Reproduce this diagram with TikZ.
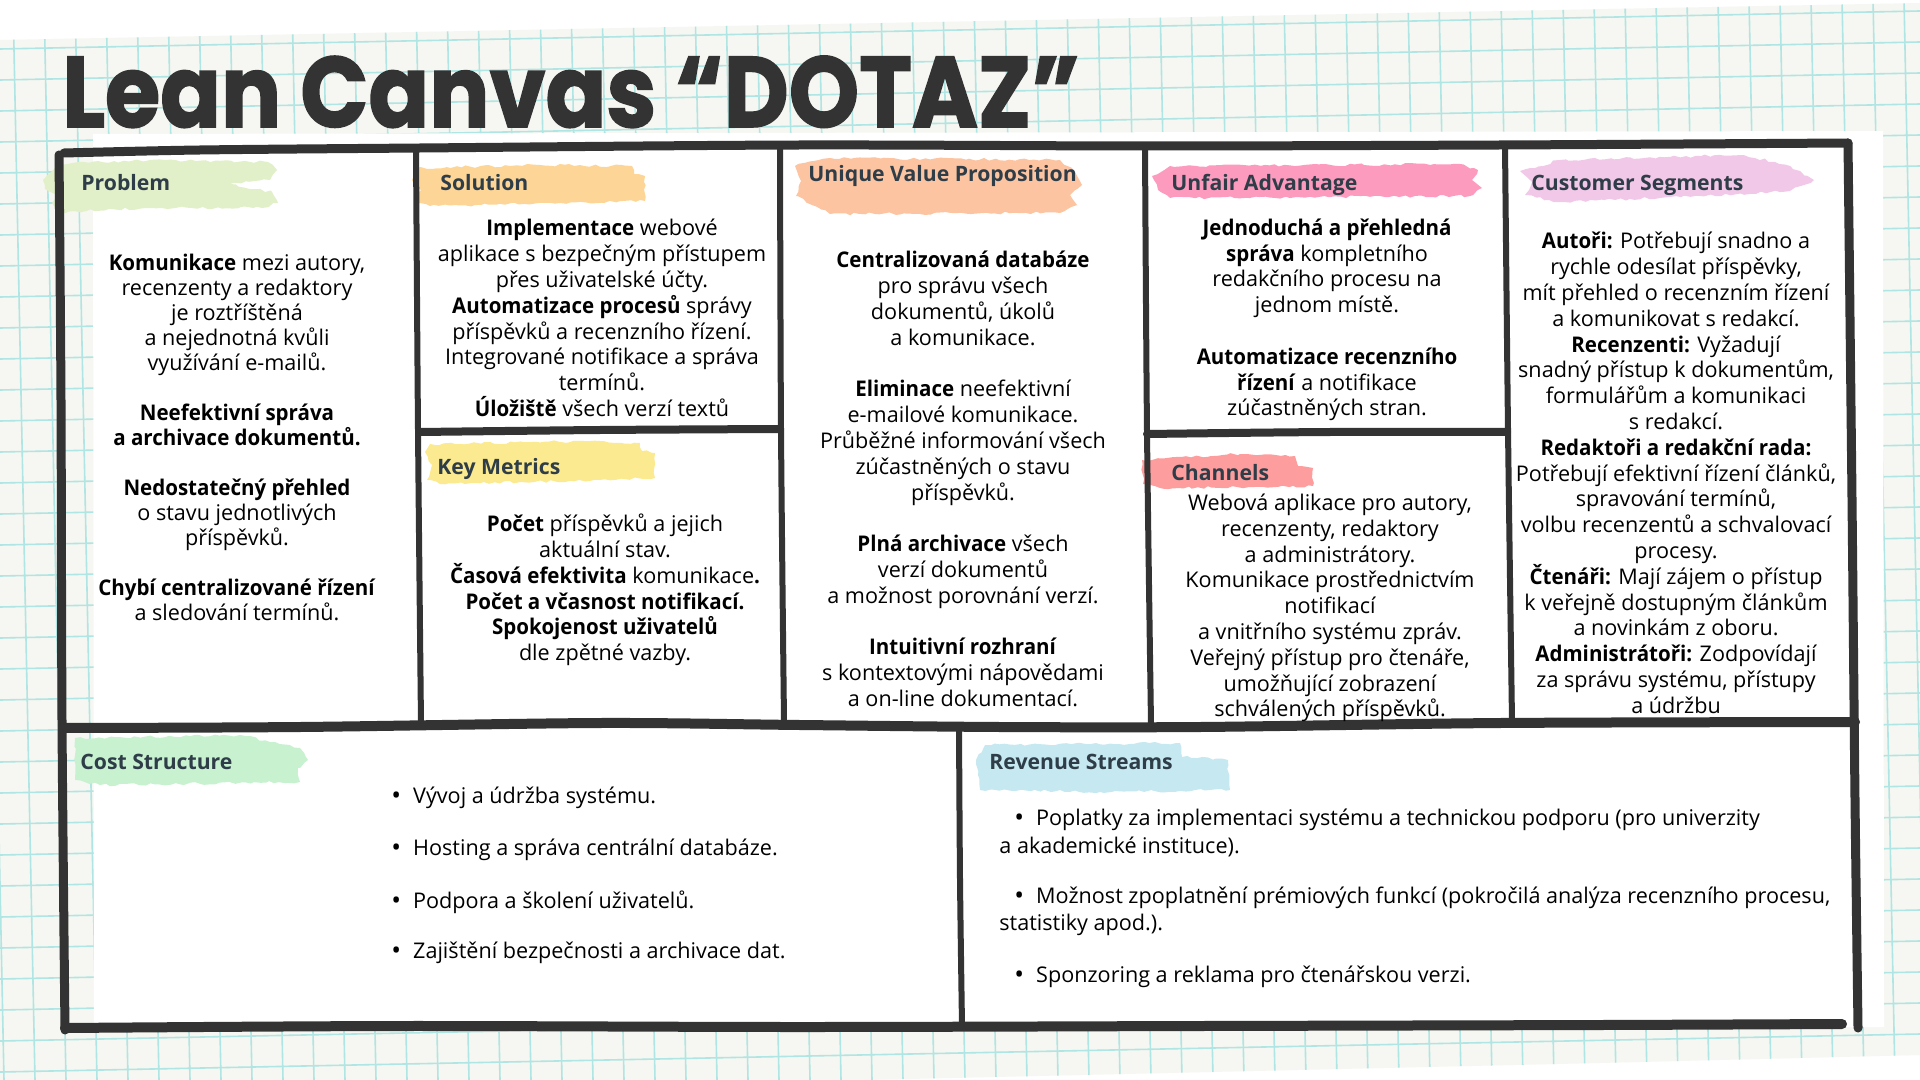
\documentclass[tikz,border=0pt]{standalone}
\usepackage{fontspec}
\setmainfont{Open Sans}[BoldFeatures={FakeStretch=0.95}]
\newfontfamily\headfont{Open Sans}
\newfontfamily\titlefont[BoldFeatures={FakeBold=1.6}]{Poppins}
\usetikzlibrary{decorations.pathmorphing}

\definecolor{ink}{HTML}{333333}
\definecolor{paper}{HTML}{F6F6F2}
\definecolor{gridc}{HTML}{AFE5E2}
\definecolor{headc}{HTML}{2E3D47}
\definecolor{hlProblem}{HTML}{E2F0C9}
\definecolor{hlSolution}{HTML}{FDD697}
\definecolor{hlMetrics}{HTML}{FBEA8F}
\definecolor{hlValue}{HTML}{FCC4A1}
\definecolor{hlAdvantage}{HTML}{FD9BBF}
\definecolor{hlChannels}{HTML}{FD9D9D}
\definecolor{hlSegments}{HTML}{F1C8E8}
\definecolor{hlCost}{HTML}{C8F1D0}
\definecolor{hlRevenue}{HTML}{C5E8F1}

\newcommand{\bigdot}{\raisebox{-0.5pt}{\fontsize{13}{13}\selectfont •}}

\tikzset{
  outline/.style={draw=ink, line width=4.5pt, line cap=round, line join=round},
  divider/.style={draw=ink, line width=3pt, line cap=round},
  brush/.style={decorate, decoration={random steps, segment length=2.5pt, amplitude=0.7pt}},
  head/.style={anchor=base west, inner sep=0pt, font=\headfont\fontsize{10.6}{12}\selectfont\bfseries, text=headc},
  body/.style={align=center, inner sep=0pt, font=\fontsize{10.8}{12.9}\selectfont, text=black},
  item/.style={anchor=west, inner sep=0pt, font=\fontsize{10.8}{12.9}\selectfont, text=black},
}

\begin{document}
\begin{tikzpicture}[x=0.5pt, y=-0.5pt]
\pgfmathsetseed{11}
\useasboundingbox (0,0) rectangle (1920,1080);

% paper and squared grid
\fill[white] (0,0) rectangle (1920,1080);
\fill[paper] (0,40) -- (1920,3) -- (1920,1055) -- (1600,1063) -- (0,1100) -- cycle;
\begin{scope}
  \clip (0,40) -- (1920,3) -- (1920,1055) -- (1600,1063) -- (0,1100) -- cycle;
  \foreach \k in {-2,...,37} {
    \draw[gridc, line width=0.8pt] (0,{18+31*\k}) -- (1920,{18+31*\k-38});
  }
  \foreach \k in {-2,...,63} {
    \draw[gridc, line width=0.8pt] ({13+31*\k},0) -- ({13+31*\k+22},1080);
  }
\end{scope}

% white sheet behind the canvas
\fill[white] (93,134) -- (1883,131) -- (1884,1027) -- (94,1029) -- cycle;

% heading
\node[anchor=base west, inner sep=0pt, text=ink,
      font=\titlefont\bfseries\fontsize{50}{50}\selectfont] (title) at (62,127)
      {\scalebox{0.895}[1]{Lean Canvas “DOTAZ”}};

% brush strokes behind the section headings
\fill[hlProblem, brush] (43,180) -- (58,164) -- (150,160) -- (268,162) -- (277,170) -- (270,180) -- (230,184) -- (272,192) -- (278,203) -- (262,208) -- (150,208) -- (60,212) -- (52,203) -- (60,195) -- (45,189) -- cycle;
\fill[hlSolution, brush] (416,168) -- (540,165) -- (632,166) -- (634,174) -- (645,176) -- (645,201) -- (560,203) -- (430,206) -- (416,203) -- (421,190) -- (412,180) -- cycle;
\fill[hlMetrics, brush] (430,444) -- (600,441) -- (640,443) -- (642,451) -- (655,453) -- (655,478) -- (600,480) -- (440,484) -- (427,480) -- (432,465) -- (425,452) -- cycle;
\fill[hlValue, brush] (795,166) -- (830,158) -- (1060,160) -- (1075,172) -- (1082,185) -- (1070,195) -- (1077,205) -- (1060,213) -- (830,214) -- (812,205) -- (796,196) -- (801,181) -- cycle;
\fill[hlAdvantage, brush] (1152,176) -- (1170,166) -- (1460,164) -- (1478,170) -- (1472,180) -- (1482,188) -- (1470,196) -- (1170,198) -- (1158,190) -- cycle;
\fill[hlChannels, brush] (1142,460) -- (1240,454) -- (1295,456) -- (1298,466) -- (1313,468) -- (1313,486) -- (1160,488) -- (1143,484) -- cycle;
\fill[hlSegments, brush] (1520,171) -- (1560,160) -- (1740,155) -- (1775,162) -- (1800,171) -- (1814,180) -- (1790,191) -- (1700,196) -- (1560,202) -- (1525,195) -- (1532,182) -- cycle;
\fill[hlCost, brush] (75,738) -- (240,735) -- (270,742) -- (300,748) -- (308,760) -- (298,768) -- (300,782) -- (100,785) -- (75,780) -- cycle;
\fill[hlRevenue, brush] (985,745) -- (1180,743) -- (1182,757) -- (1228,760) -- (1230,790) -- (1100,792) -- (980,790) -- (976,760) -- cycle;

% hand-drawn frame
\draw[outline] plot[smooth, tension=0.5] coordinates {(64,153) (200,150) (420,148) (800,145) (1150,146) (1500,145) (1848,143)};
\draw[outline] plot[smooth, tension=0.5] coordinates {(59,155) (61,400) (62,720) (65,1030)};
\draw[outline] plot[smooth, tension=0.5] coordinates {(1848,143) (1852,500) (1855,800) (1858,1028)};
\draw[outline, line width=5pt] plot[smooth, tension=0.5] coordinates {(63,728) (300,727) (600,723) (800,725) (1000,727) (1200,727) (1500,723) (1855,722)};
\draw[outline, line width=5pt] plot[smooth, tension=0.5] coordinates {(65,1028) (400,1026) (800,1027) (1200,1026) (1600,1025) (1842,1024)};
\draw[divider] plot[smooth, tension=0.5] coordinates {(416,150) (418,430) (421,724)};
\draw[divider] plot[smooth, tension=0.5] coordinates {(780,148) (781,430) (784,722)};
\draw[divider] plot[smooth, tension=0.5] coordinates {(1145,147) (1147,432) (1151,724)};
\draw[divider] plot[smooth, tension=0.5] coordinates {(1505,146) (1508,430) (1512,722)};
\draw[divider] plot[smooth, tension=0.5] coordinates {(959,726) (960,880) (962,1026)};
\draw[outline, line width=4pt] plot[smooth, tension=0.5] coordinates {(420,432) (600,430) (780,429)};
\draw[outline, line width=4pt] plot[smooth, tension=0.5] coordinates {(1147,434) (1330,432) (1507,432)};

% section headings
\node[head] (hProblem) at (81,191) {Problem};
\node[head] (hSolution) at (440,191) {Solution};
\node[head] (hMetrics) at (437,474) {Key Metrics};
\node[head] (hValue) at (808,182) {Unique Value Proposition};
\node[head] (hAdvantage) at (1171,191) {Unfair Advantage};
\node[head] (hChannels) at (1171,480) {Channels};
\node[head] (hSegments) at (1531,191) {Customer Segments};
\node[head] (hCost) at (80,769) {Cost Structure};
\node[head] (hRevenue) at (989,769) {Revenue Streams};

% section contents
\node[body, font=\fontsize{10.8}{12.5}\selectfont] (tProblem) at (237,437) {%
\textbf{Komunikace} mezi autory,\\
recenzenty a redaktory\\
je roztříštěná\\
a nejednotná kvůli\\
využívání e-mailů.\\[12.5pt]
\textbf{Neefektivní správa}\\
\textbf{a archivace dokumentů.}\\[12.5pt]
\textbf{Nedostatečný přehled}\\
o stavu jednotlivých\\
příspěvků.\\[12.5pt]
\textbf{Chybí centralizované řízení}\\
a sledování termínů.};

\node[body] (tSolution) at (602,318) {%
\textbf{Implementace} webové\\
aplikace s bezpečným přístupem\\
přes uživatelské účty.\\
\textbf{Automatizace procesů} správy\\
příspěvků a recenzního řízení.\\
Integrované notifikace a správa\\
termínů.\\
\textbf{Úložiště} všech verzí textů};

\node[body] (tMetrics) at (605,590) {%
\textbf{Počet} příspěvků a jejich\\
aktuální stav.\\
\textbf{Časová efektivita} komunikace\textbf{.}\\
\textbf{Počet a včasnost notifikací.}\\
\textbf{Spokojenost uživatelů}\\
dle zpětné vazby.};

\node[body] (tValue) at (963,479) {%
\textbf{Centralizovaná databáze}\\
pro správu všech\\
dokumentů, úkolů\\
a komunikace.\\[12.9pt]
\textbf{Eliminace} neefektivní\\
e-mailové komunikace.\\
Průběžné informování všech\\
zúčastněných o stavu\\
příspěvků.\\[12.9pt]
\textbf{Plná archivace} všech\\
verzí dokumentů\\
a možnost porovnání verzí.\\[12.9pt]
\textbf{Intuitivní rozhraní}\\
s kontextovými nápovědami\\
a on-line dokumentací.};

\node[body] (tAdvantage) at (1327,320) {%
\textbf{Jednoduchá a přehledná}\\
\textbf{správa} kompletního\\
redakčního procesu na\\
jednom místě.\\[12.9pt]
\textbf{Automatizace recenzního}\\
\textbf{řízení} a notifikace\\
zúčastněných stran.};

\node[body] (tChannels) at (1330,608) {%
Webová aplikace pro autory,\\
recenzenty, redaktory\\
a administrátory.\\
Komunikace prostřednictvím\\
notifikací\\
a vnitřního systému zpráv.\\
Veřejný přístup pro čtenáře,\\
umožňující zobrazení\\
schválených příspěvků.};

\node[body] (tSegments) at (1676,473) {%
\textbf{Autoři:} Potřebují snadno a\\
rychle odesílat příspěvky,\\
mít přehled o recenzním řízení\\
a komunikovat s redakcí.\\
\textbf{Recenzenti:} Vyžadují\\
snadný přístup k dokumentům,\\
formulářům a komunikaci\\
s redakcí.\\
\textbf{Redaktoři a redakční rada:}\\
Potřebují efektivní řízení článků,\\
spravování termínů,\\
volbu recenzentů a schvalovací\\
procesy.\\
\textbf{Čtenáři:} Mají zájem o přístup\\
k veřejně dostupným článkům\\
a novinkám z oboru.\\
\textbf{Administrátoři:} Zodpovídají\\
za správu systému, přístupy\\
a údržbu};

% cost items
\node[item] (c1) at (391,798) {\bigdot\hspace{6pt}Vývoj a údržba systému.};
\node[item] (c2) at (391,850) {\bigdot\hspace{6pt}Hosting a správa centrální databáze.};
\node[item] (c3) at (391,902) {\bigdot\hspace{6pt}Podpora a školení uživatelů.};
\node[item] (c4) at (391,953) {\bigdot\hspace{6pt}Zajištění bezpečnosti a archivace dat.};

% revenue items
\node[item] (r1) at (1014,820) {\bigdot\hspace{6pt}Poplatky za implementaci systému a technickou podporu (pro univerzity};
\node[item] (r1b) at (999,847) {a akademické instituce).};
\node[item] (r2) at (1014,898) {\bigdot\hspace{6pt}Možnost zpoplatnění prémiových funkcí (pokročilá analýza recenzního procesu,};
\node[item] (r2b) at (999,925) {statistiky apod.).};
\node[item] (r3) at (1014,977) {\bigdot\hspace{6pt}Sponzoring a reklama pro čtenářskou verzi.};
\end{tikzpicture}
\end{document}
